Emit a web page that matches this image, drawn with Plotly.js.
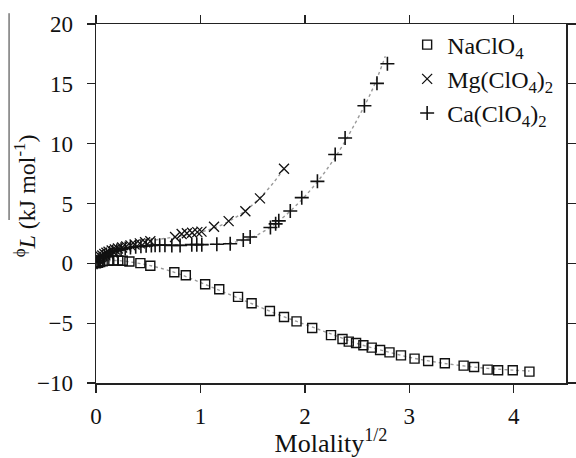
<!DOCTYPE html>
<html>
<head>
<meta charset="utf-8">
<script src="https://cdn.plot.ly/plotly-3.0.1.min.js"></script>
<style>html,body{margin:0;padding:0;background:#fff;}#chart{width:576px;height:458px;}</style>
</head>
<body>
<div id="chart"></div>
<script>
// NaClO4
const naX = [0, 0.02, 0.04, 0.064, 0.118, 0.166, 0.213, 0.256, 0.32, 0.425, 0.52, 0.75, 0.86, 1.045, 1.18, 1.36, 1.49, 1.665, 1.80, 1.92, 2.07, 2.25, 2.36, 2.42, 2.49, 2.56, 2.64, 2.72, 2.81, 2.92, 3.05, 3.18, 3.34, 3.52, 3.62, 3.75, 3.85, 3.99, 4.15];
const naY = [0, 0.05, 0.1, 0.18, 0.22, 0.24, 0.24, 0.22, 0.15, 0.02, -0.2, -0.75, -1.0, -1.75, -2.17, -2.8, -3.34, -3.98, -4.48, -4.85, -5.4, -6.0, -6.32, -6.54, -6.66, -6.85, -7.04, -7.24, -7.44, -7.69, -7.96, -8.16, -8.35, -8.55, -8.66, -8.88, -8.94, -8.94, -9.05];
// Mg(ClO4)2
const mgX = [0.01, 0.02, 0.03, 0.045, 0.06, 0.08, 0.1, 0.12, 0.15, 0.18, 0.21, 0.25, 0.29, 0.33, 0.37, 0.42, 0.47, 0.52, 0.757, 0.82, 0.87, 0.92, 0.97, 1.01, 1.13, 1.27, 1.43, 1.57, 1.80];
const mgY = [0.15, 0.3, 0.42, 0.55, 0.66, 0.78, 0.88, 0.97, 1.07, 1.16, 1.24, 1.33, 1.42, 1.5, 1.58, 1.67, 1.76, 1.85, 2.2, 2.45, 2.52, 2.56, 2.61, 2.65, 3.06, 3.53, 4.35, 5.43, 7.9];
// Ca(ClO4)2
const caX = [0.01, 0.025, 0.04, 0.06, 0.08, 0.1, 0.13, 0.16, 0.2, 0.24, 0.28, 0.33, 0.38, 0.43, 0.48, 0.53, 0.566, 0.61, 0.66, 0.726, 0.805, 0.917, 0.965, 1.013, 1.157, 1.285, 1.41, 1.476, 1.67, 1.72, 1.75, 1.86, 1.97, 2.12, 2.29, 2.385, 2.57, 2.69, 2.79];
const caY = [0.1, 0.25, 0.38, 0.52, 0.64, 0.74, 0.86, 0.97, 1.08, 1.17, 1.25, 1.32, 1.38, 1.42, 1.46, 1.49, 1.52, 1.52, 1.52, 1.5, 1.5, 1.56, 1.56, 1.56, 1.59, 1.64, 1.95, 2.2, 3.0, 3.3, 3.55, 4.37, 5.49, 6.85, 9.1, 10.47, 13.17, 15.04, 16.68];
// fitted curves (dotted)
const naFitX = [0, 0.1, 0.2, 0.3, 0.5, 0.75, 1.0, 1.25, 1.5, 1.75, 2.0, 2.25, 2.5, 2.75, 3.0, 3.25, 3.5, 3.75, 4.0, 4.15];
const naFitY = [0, 0.2, 0.24, 0.15, -0.15, -0.75, -1.6, -2.5, -3.4, -4.3, -5.1, -5.9, -6.7, -7.3, -7.85, -8.25, -8.55, -8.78, -8.93, -9.0];
const mgFitX = [0, 0.05, 0.1, 0.2, 0.3, 0.4, 0.5, 0.6, 0.75, 0.9, 1.0, 1.1, 1.2, 1.3, 1.4, 1.5, 1.6, 1.7, 1.8];
const mgFitY = [0, 0.6, 0.9, 1.25, 1.5, 1.7, 1.85, 2.0, 2.2, 2.45, 2.62, 2.85, 3.2, 3.65, 4.2, 4.9, 5.75, 6.75, 7.9];
const caFitX = [0, 0.05, 0.1, 0.2, 0.3, 0.4, 0.5, 0.7, 0.9, 1.1, 1.3, 1.5, 1.7, 1.9, 2.1, 2.3, 2.5, 2.65, 2.77];
const caFitY = [0, 0.55, 0.8, 1.1, 1.3, 1.42, 1.48, 1.52, 1.54, 1.58, 1.72, 2.2, 3.2, 4.7, 6.6, 9.0, 12.0, 14.6, 17.3];

const names = ['NaClO<sub>4</sub>', 'Mg(ClO<sub>4</sub>)<sub>2</sub>', 'Ca(ClO<sub>4</sub>)<sub>2</sub>'];
const serif = '"Liberation Serif"';
const ink = '#111';
const fitLine = {color: '#9a9a9a', width: 1.4, dash: 'dot', shape: 'spline'};

const traces = [
  {x: naFitX, y: naFitY, mode: 'lines', line: fitLine, showlegend: false, hoverinfo: 'skip'},
  {x: mgFitX, y: mgFitY, mode: 'lines', line: fitLine, showlegend: false, hoverinfo: 'skip'},
  {x: caFitX, y: caFitY, mode: 'lines', line: fitLine, showlegend: false, hoverinfo: 'skip'},
  {x: naX, y: naY, mode: 'markers', name: names[0],
   marker: {symbol: 'square-open', size: 9, color: ink, line: {width: 1.4, color: ink}}},
  {x: mgX, y: mgY, mode: 'markers', name: names[1],
   marker: {symbol: 'x-thin-open', size: 10, color: ink, line: {width: 1.3, color: ink}}},
  {x: caX, y: caY, mode: 'markers', name: names[2],
   marker: {symbol: 'cross-thin-open', size: 10, color: ink, line: {width: 1.6, color: ink}}}
];

const axisCommon = {
  showgrid: false, zeroline: false, showline: true, linecolor: '#222', linewidth: 1.5,
  ticks: 'outside', ticklen: 8, tickwidth: 1.3, tickcolor: '#222', mirror: 'ticks',
  tickfont: {family: serif, size: 23, color: ink}
};

const layout = {
  width: 576, height: 458,
  margin: {l: 96, r: 10, t: 24, b: 75},
  paper_bgcolor: '#fff', plot_bgcolor: '#fff',
  font: {family: serif, color: ink},
  xaxis: Object.assign({}, axisCommon, {
    range: [0, 4.5], dtick: 1, tick0: 0, ticklabelstandoff: 4,
    title: {text: 'Molality<sup>1/2</sup>', font: {family: serif, size: 26, color: ink}, standoff: 14}
  }),
  yaxis: Object.assign({}, axisCommon, {
    range: [-10, 20], dtick: 5, tick0: 0, ticklabelstandoff: 9
  }),
  legend: {
    x: 0.662, y: 1.004, xanchor: 'left', yanchor: 'top',
    bgcolor: 'rgba(0,0,0,0)', borderwidth: 0,
    font: {family: serif, size: 24, color: ink}, tracegroupgap: 0
  },
  annotations: [{
    xref: 'paper', yref: 'paper', x: -0.151, y: 0.52, xanchor: 'center', yanchor: 'middle',
    textangle: -90, showarrow: false,
    text: '<sup>\u03D5</sup><i>L</i> (kJ mol<sup>-1</sup>)',
    font: {family: serif, size: 24, color: ink}
  }],
  shapes: [{
    type: 'line', xref: 'paper', yref: 'paper',
    x0: -0.185, x1: -0.185, y0: 0.454, y1: 1.03,
    line: {color: '#333', width: 1}
  }]
};

Plotly.newPlot('chart', traces, layout, {staticPlot: true, displayModeBar: false});
</script>
</body>
</html>
